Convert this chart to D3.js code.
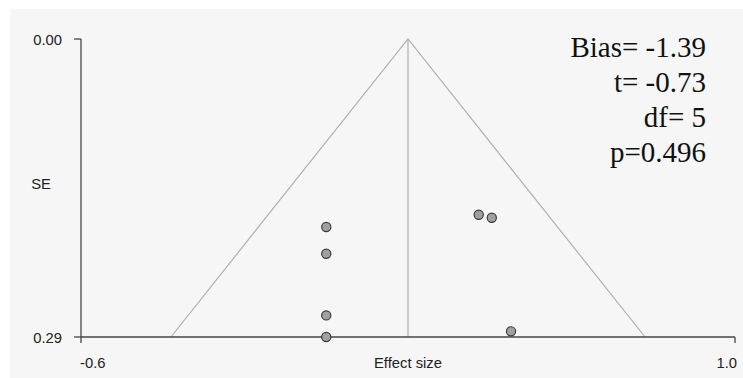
<!DOCTYPE html>
<html><head><meta charset="utf-8">
<script src="https://cdn.jsdelivr.net/npm/d3@7"></script>
<style>body{margin:0;background:#fff}svg{display:block}</style>
</head><body>
<svg id="c" width="743" height="378"></svg>
<script>
const effects = [0.00, 0.00, 0.00, 0.00, 0.373, 0.405, 0.452];
const ses     = [0.183, 0.209, 0.269, 0.290, 0.171, 0.174, 0.2845];
const pooled = 0.2;
const xDomain = [-0.6, 1.0];
const yDomain = [0.00, 0.29];
const xTickLabels = ["-0.6", "1.0"];
const yTickLabels = ["0.00", "0.29"];
const statLines = ["Bias= -1.39", "t= -0.73", "df= 5", "p=0.496"];

const svg = d3.select("#c");
svg.append("rect").attr("x",10).attr("y",9).attr("width",733).attr("height",369).attr("fill","#f6f6f6");

const x = d3.scaleLinear().domain(xDomain).range([81, 735]);
const y = d3.scaleLinear().domain(yDomain).range([39, 337]);
const axisCol = "#444";
const sans = "Liberation Sans, Arial, sans-serif";
const fs = 14.8;

// funnel
const seMax = yDomain[1];
const z = 2.0;
const tri = [[pooled - z*seMax, seMax],[pooled,0],[pooled + z*seMax, seMax]];
svg.append("path").attr("d", d3.line().x(d=>x(d[0])).y(d=>y(d[1]))(tri))
  .attr("fill","none").attr("stroke","#b0b0b0").attr("stroke-width",1.2);
svg.append("line").attr("x1",x(pooled)).attr("x2",x(pooled)).attr("y1",y(0)).attr("y2",y(seMax))
  .attr("stroke","#b0b0b0").attr("stroke-width",1.2);

// axes
const g = svg.append("g");
g.append("line").attr("x1",x(xDomain[0])).attr("x2",x(xDomain[0])).attr("y1",y(0)).attr("y2",y(seMax)+6).attr("stroke",axisCol).attr("stroke-width",1.3);
g.append("line").attr("x1",x(xDomain[0])).attr("x2",x(xDomain[1])).attr("y1",y(seMax)).attr("y2",y(seMax)).attr("stroke",axisCol).attr("stroke-width",1.3);
g.append("line").attr("x1",x(xDomain[1])).attr("x2",x(xDomain[1])).attr("y1",y(seMax)).attr("y2",y(seMax)+6).attr("stroke",axisCol).attr("stroke-width",1.3);
yDomain.forEach((v,i)=>{
  g.append("line").attr("x1",x(xDomain[0])-7).attr("x2",x(xDomain[0])).attr("y1",y(v)).attr("y2",y(v)).attr("stroke",axisCol).attr("stroke-width",1.3);
  g.append("text").attr("x",62).attr("y",y(v)+5.5).attr("text-anchor","end")
    .attr("font-family",sans).attr("font-size",fs).attr("fill","#222").text(yTickLabels[i]);
});
xDomain.forEach((v,i)=>{
  g.append("text").attr("x",x(v)+(i===0?-1:2)).attr("y",368).attr("text-anchor",i===0?"start":"end")
    .attr("font-family",sans).attr("font-size",fs).attr("fill","#222").text(xTickLabels[i]);
});
g.append("text").attr("x",408).attr("y",368).attr("text-anchor","middle")
  .attr("font-family",sans).attr("font-size",fs).attr("fill","#222").text("Effect size");
g.append("text").attr("x",41).attr("y",188.5).attr("text-anchor","middle")
  .attr("font-family",sans).attr("font-size",fs).attr("fill","#222").text("SE");

// points
svg.append("g").selectAll("circle").data(effects).join("circle")
  .attr("cx",(d)=>x(d)).attr("cy",(d,i)=>y(ses[i])).attr("r",4.6)
  .attr("fill","#a0a0a0").attr("stroke","#3a3a3a").attr("stroke-width",1.2);

// stats
svg.append("g").selectAll("text").data(statLines).join("text")
  .attr("x",706).attr("y",(d,i)=>57+i*35).attr("text-anchor","end")
  .attr("font-family","Liberation Serif, Times New Roman, serif").attr("font-size",29).attr("fill","#111").text(d=>d);
</script>
</body></html>
